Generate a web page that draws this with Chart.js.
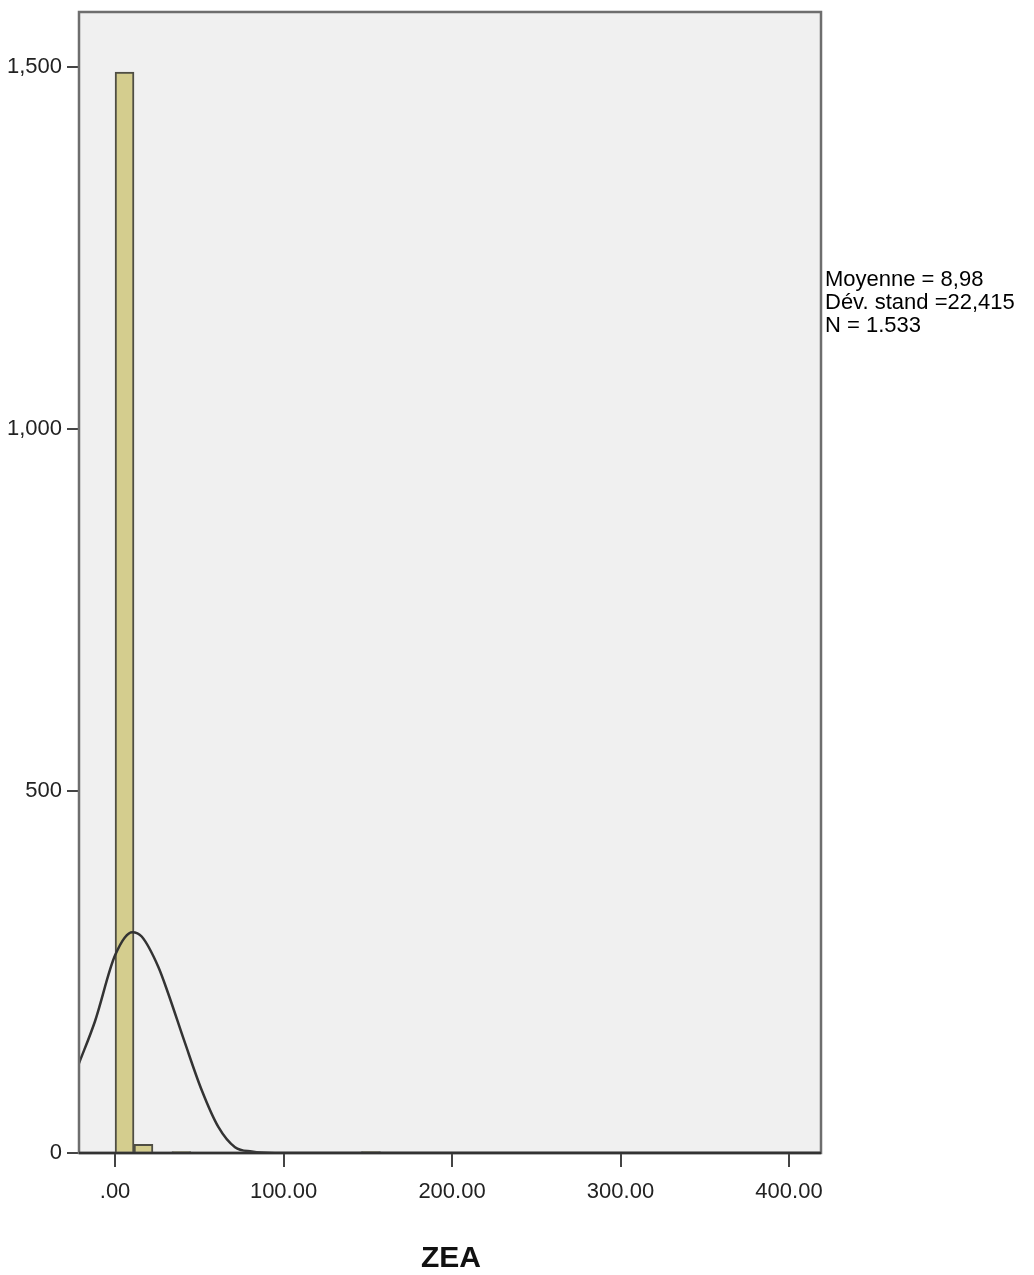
<!DOCTYPE html>
<html>
<head>
<meta charset="utf-8">
<script src="https://cdn.jsdelivr.net/npm/chart.js@4.4.1/dist/chart.umd.min.js"></script>
<style>
  body { margin: 0; background: #fff; }
  #wrap { width: 1034px; height: 1275px; }
</style>
</head>
<body>
<div id="wrap"><canvas id="histo"></canvas></div>
<script>
// histogram of ZEA, bins
var binWidth = 11.25;
var counts = [1493, 12, 1, 2, 0, 0, 0, 1, 0, 1, 1, 0, 0, 2, 0, 0, 0, 1, 0, 0,
              1, 1, 0, 0, 0, 0, 0, 0, 0, 0, 1, 0, 1, 0, 1, 0, 0];
// normal curve, points
var curveX = [-21.4, -11.9, 0, 10.3, 15.8, 25.7, 31.6, 41.5, 51.4, 61.3, 71.2, 81.1, 95, 419];
var curveY = [124, 182, 273, 305, 299, 257, 220, 152, 87, 36, 8, 2, 0, 0];
var xTicks = [0, 100, 200, 300, 400];
var yTicks = [0, 500, 1000, 1500];
var statsLines = ['Moyenne = 8,98', 'Dév. stand =22,415', 'N = 1.533'];
var axisTitle = 'ZEA';

var sans = "'Liberation Sans', Arial, sans-serif";

var barData = counts.map(function (c, i) { return { x: binWidth * (i + 0.5), y: c }; });
var lineData = curveX.map(function (x, i) { return { x: x, y: curveY[i] }; });

// grey plot background and the frame round it
var framePlugin = {
	id: 'frame',
	beforeDatasetsDraw: function (chart) {
		var a = chart.chartArea, ctx = chart.ctx;
		ctx.save();
		ctx.fillStyle = '#f0f0f0';
		ctx.fillRect(a.left, a.top, a.right - a.left, a.bottom - a.top);
		ctx.restore();
	},
	afterDraw: function (chart) {
		var a = chart.chartArea, ctx = chart.ctx;
		ctx.save();
		ctx.strokeStyle = '#6e6e6e';
		ctx.lineWidth = 2.5;
		ctx.strokeRect(a.left, a.top, a.right - a.left, a.bottom - a.top);
		ctx.strokeStyle = '#333';
		ctx.beginPath();
		ctx.moveTo(a.left, a.bottom);
		ctx.lineTo(a.right, a.bottom);
		ctx.stroke();

		ctx.fillStyle = '#000';
		ctx.font = '22px ' + sans;
		ctx.textAlign = 'left';
		ctx.textBaseline = 'alphabetic';
		for (var i = 0; i < statsLines.length; i++) {
			ctx.fillText(statsLines[i], 825, 286 + i * 23);
		}
		ctx.font = 'bold 30px ' + sans;
		ctx.textAlign = 'center';
		ctx.fillStyle = '#111';
		ctx.fillText(axisTitle, 451, 1267);
		ctx.restore();
	}
};

new Chart(document.getElementById('histo'), {
	type: 'bar',
	data: {
		datasets: [
			{
				type: 'line',
				data: lineData,
				borderColor: '#333',
				borderWidth: 2.5,
				pointRadius: 0,
				cubicInterpolationMode: 'monotone',
				order: 0
			},
			{
				type: 'bar',
				data: barData,
				backgroundColor: '#d4cd8e',
				borderColor: '#4f4e44',
				borderWidth: 2,
				barPercentage: 1,
				categoryPercentage: 1,
				order: 1
			}
		]
	},
	options: {
		responsive: true,
		maintainAspectRatio: false,
		animation: false,
		layout: { padding: { top: 12, right: 213, left: 0, bottom: 0 } },
		plugins: { legend: { display: false }, tooltip: { enabled: false } },
		scales: {
			x: {
				type: 'linear',
				min: -21.4,
				max: 419,
				offset: false,
				afterBuildTicks: function (s) { s.ticks = xTicks.map(function (v) { return { value: v }; }); },
				afterFit: function (s) { s.height = 122; s.paddingLeft = 0; s.paddingRight = 0; },
				grid: { drawOnChartArea: false, offset: false, tickLength: 14, color: '#444', lineWidth: 2 },
				border: { display: true, color: '#333', width: 2 },
				ticks: {
					padding: 12,
					maxRotation: 0,
					color: '#222',
					font: { family: sans, size: 22 },
					callback: function (v) { return v === 0 ? '.00' : v.toFixed(2); }
				}
			},
			y: {
				min: 0,
				max: 1576,
				afterBuildTicks: function (s) { s.ticks = yTicks.map(function (v) { return { value: v }; }); },
				afterFit: function (s) { s.width = 79; s.paddingTop = 0; s.paddingBottom = 0; },
				grid: { drawOnChartArea: false, tickLength: 12, color: '#444', lineWidth: 2 },
				border: { display: true, color: '#6e6e6e', width: 2 },
				ticks: {
					padding: 5,
					color: '#222',
					font: { family: sans, size: 22 },
					callback: function (v) { return v.toLocaleString('en-US'); }
				}
			}
		}
	},
	plugins: [framePlugin]
});
</script>
</body>
</html>
